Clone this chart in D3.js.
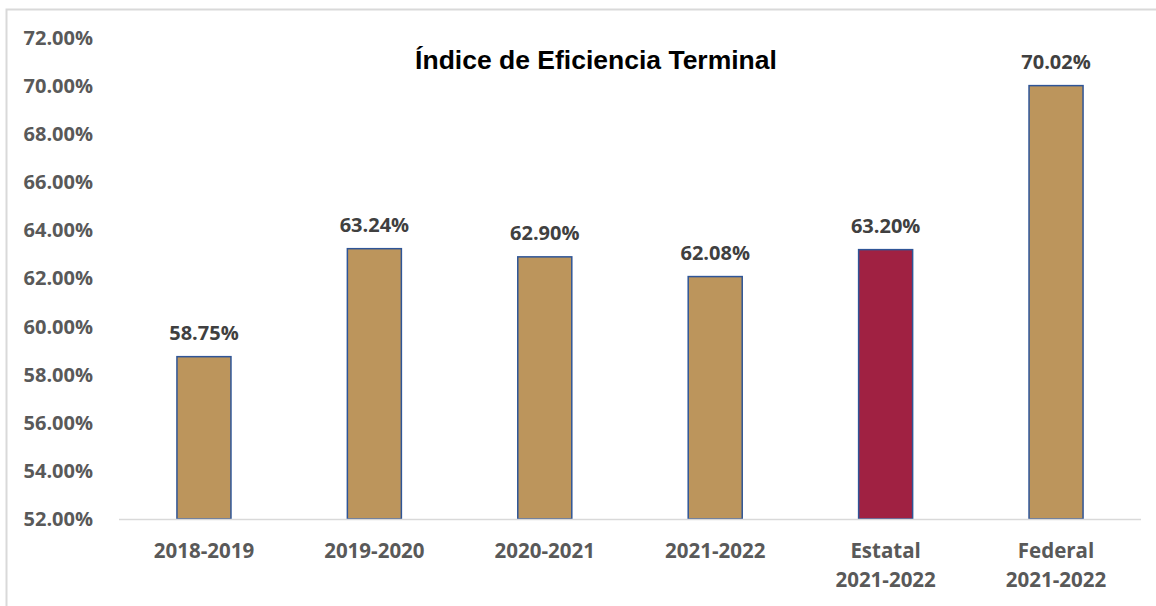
<!DOCTYPE html>
<html>
<head>
<meta charset="utf-8">
<script src="https://cdn.jsdelivr.net/npm/d3@7"></script>
<style>
  body { margin: 0; background: #fff; }
</style>
</head>
<body>
<div id="chart"></div>
<script>
const categories = [["2018-2019"], ["2019-2020"], ["2020-2021"], ["2021-2022"], ["Estatal", "2021-2022"], ["Federal", "2021-2022"]];
const values = [58.75, 63.24, 62.90, 62.08, 63.20, 70.02];
const highlight = [false, false, false, false, true, false];
const yTicks = [52, 54, 56, 58, 60, 62, 64, 66, 68, 70, 72];
const title = "Índice de Eficiencia Terminal";

const width = 1156, height = 606;
const margin = { top: 38, right: 15, bottom: 87, left: 119 };

const svg = d3.select("#chart").append("svg")
    .attr("width", width)
    .attr("height", height);

// outer frame (only top and left visible)
svg.append("path")
    .attr("d", `M6.5,${height} V9.5 H${width}`)
    .attr("fill", "none")
    .attr("stroke", "#d9d9d9")
    .attr("stroke-width", 2);

const x = d3.scaleBand()
    .domain(d3.range(categories.length))
    .range([margin.left, width - margin.right])
    .paddingInner(0.683)
    .paddingOuter(0.34);

const y = d3.scaleLinear()
    .domain([52, 72])
    .range([height - margin.bottom, margin.top]);

// y axis labels
svg.append("g")
    .attr("transform", `translate(${margin.left - 23},0)`)
    .call(d3.axisLeft(y).tickValues(yTicks).tickFormat(d => d.toFixed(2) + "%").tickSize(0))
    .call(g => g.select(".domain").remove())
    .call(g => g.selectAll("text")
        .attr("font-family", "Open Sans")
        .attr("font-weight", "bold")
        .attr("font-size", 20)
        .attr("fill", "#595959"));

// bars
svg.append("g")
    .selectAll("rect")
    .data(values)
    .join("rect")
    .attr("x", (d, i) => x(i))
    .attr("y", d => y(d))
    .attr("width", x.bandwidth())
    .attr("height", d => y(52) - y(d))
    .attr("fill", (d, i) => highlight[i] ? "#a02142" : "#bc955c")
    .attr("stroke", "#2f5597")
    .attr("stroke-width", 1.5);

// baseline
svg.append("line")
    .attr("x1", margin.left)
    .attr("x2", width - margin.right)
    .attr("y1", y(52) + 0.5)
    .attr("y2", y(52) + 0.5)
    .attr("stroke", "#d9d9d9")
    .attr("stroke-width", 1.5);

// value labels
svg.append("g")
    .selectAll("text")
    .data(values)
    .join("text")
    .attr("x", (d, i) => x(i) + x.bandwidth() / 2)
    .attr("y", d => y(d) - 17)
    .attr("text-anchor", "middle")
    .attr("font-family", "Open Sans")
    .attr("font-weight", "bold")
    .attr("font-size", 20)
    .attr("fill", "#404040")
    .text(d => d.toFixed(2) + "%");

// category labels
const catG = svg.append("g")
    .selectAll("text")
    .data(categories)
    .join("text")
    .attr("x", (d, i) => x(i) + x.bandwidth() / 2)
    .attr("y", y(52) + 39)
    .attr("text-anchor", "middle")
    .attr("font-family", "Open Sans")
    .attr("font-weight", "bold")
    .attr("font-size", 20.5)
    .attr("fill", "#595959");

catG.selectAll("tspan")
    .data(d => d)
    .join("tspan")
    .attr("x", function () { return d3.select(this.parentNode).attr("x"); })
    .attr("dy", (d, i) => i === 0 ? 0 : 29)
    .text(d => d);

// title
svg.append("text")
    .attr("x", 596)
    .attr("y", 69)
    .attr("text-anchor", "middle")
    .attr("font-family", "Liberation Sans, Arial")
    .attr("font-weight", "bold")
    .attr("font-size", 26.5)
    .attr("fill", "#000")
    .text(title);
</script>
</body>
</html>
